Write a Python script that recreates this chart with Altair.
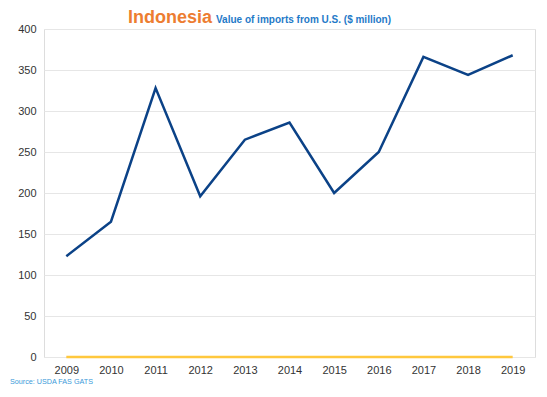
import altair as alt
import pandas as pd

years = ["2009", "2010", "2011", "2012", "2013", "2014", "2015", "2016", "2017", "2018", "2019"]
imports_us = [123, 165, 328, 196, 265, 286, 200, 250, 366, 344, 368]
other_series = [0, 0, 0, 0, 0, 0, 0, 0, 0, 0, 0]

df = pd.DataFrame({
    "year": years * 2,
    "value": imports_us + other_series,
    "series": ["Imports"] * len(years) + ["Other"] * len(years),
})

title_main = "Indonesia"
title_sub = "Value of imports from U.S. ($ million)"
source = "Source: USDA FAS GATS"

x = alt.X("year:O", scale=alt.Scale(domain=years, paddingInner=1, paddingOuter=0.5),
          axis=alt.Axis(title=None, labelAngle=0, ticks=False, domain=False,
                        labelFontSize=11, labelColor="#333333", labelPadding=7,
                        labelFont="Liberation Sans"))
y = alt.Y("value:Q", scale=alt.Scale(domain=[0, 400]),
          axis=alt.Axis(title=None, values=[0, 50, 100, 150, 200, 250, 300, 350, 400],
                        ticks=False, domain=False, labelFontSize=11, labelColor="#333333",
                        labelPadding=8, gridColor="#E6E6E6", gridWidth=1,
                        labelFont="Liberation Sans"))

lines = alt.Chart(df).mark_line(strokeWidth=2.5).encode(
    x=x, y=y,
    color=alt.Color("series:N", scale=alt.Scale(domain=["Imports", "Other"],
                                                  range=["#0B4287", "#FFC83D"]), legend=None),
    order=alt.Order("series:N", sort="descending"),
)

t1 = alt.Chart(pd.DataFrame({"t": [title_main]})).mark_text(
    font="Liberation Sans", fontSize=18, fontWeight="bold", color="#ED7D31",
    align="left", baseline="alphabetic").encode(
    text="t:N", x=alt.value(84), y=alt.value(-6))
t2 = alt.Chart(pd.DataFrame({"t": [title_sub]})).mark_text(
    font="Liberation Sans", fontSize=10, fontWeight="bold", color="#1F7AC8",
    align="left", baseline="alphabetic").encode(
    text="t:N", x=alt.value(172), y=alt.value(-6))
t3 = alt.Chart(pd.DataFrame({"t": [source]})).mark_text(
    font="Liberation Sans", fontSize=7.2, color="#3A9AD9",
    align="left", baseline="alphabetic").encode(
    text="t:N", x=alt.value(-34), y=alt.value(355))

chart = alt.layer(lines, t1, t2, t3).properties(
    width=491, height=328,
    autosize=alt.AutoSizeParams(type="none"),
    padding={"left": 36, "top": 21, "right": 4, "bottom": 32},
).configure_view(stroke=None).configure(background="white")

chart.save("out.html", embed_options={"renderer": "svg", "actions": False})
